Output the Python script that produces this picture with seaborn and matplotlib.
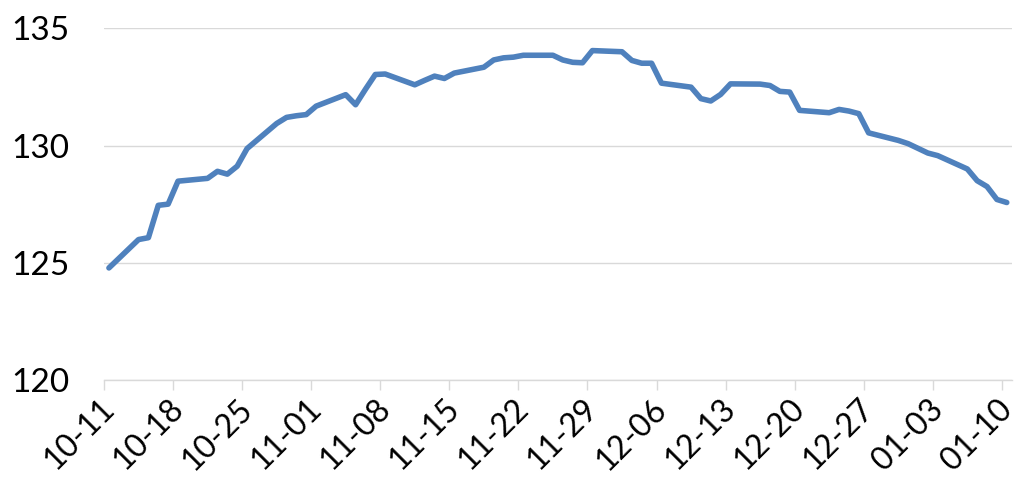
import numpy as np
import pandas as pd
import matplotlib
matplotlib.use("Agg")
import matplotlib.pyplot as plt
import matplotlib.transforms as mtransforms
import seaborn as sns

# trading days (weekends / new year skipped) and the index values
dates = ["2024-10-11", "2024-10-14", "2024-10-15", "2024-10-16", "2024-10-17", "2024-10-18",
         "2024-10-21", "2024-10-22", "2024-10-23", "2024-10-24", "2024-10-25",
         "2024-10-28", "2024-10-29", "2024-10-30", "2024-10-31", "2024-11-01",
         "2024-11-04", "2024-11-05", "2024-11-06", "2024-11-07", "2024-11-08",
         "2024-11-11", "2024-11-12", "2024-11-13", "2024-11-14", "2024-11-15",
         "2024-11-18", "2024-11-19", "2024-11-20", "2024-11-21", "2024-11-22",
         "2024-11-25", "2024-11-26", "2024-11-27", "2024-11-28", "2024-11-29",
         "2024-12-02", "2024-12-03", "2024-12-04", "2024-12-05", "2024-12-06",
         "2024-12-09", "2024-12-10", "2024-12-11", "2024-12-12", "2024-12-13",
         "2024-12-16", "2024-12-17", "2024-12-18", "2024-12-19", "2024-12-20",
         "2024-12-23", "2024-12-24", "2024-12-25", "2024-12-26", "2024-12-27",
         "2024-12-30", "2024-12-31", "2025-01-02", "2025-01-03",
         "2025-01-06", "2025-01-07", "2025-01-08", "2025-01-09", "2025-01-10"]
values = [124.78, 125.99, 126.07, 127.45, 127.50, 128.48,
          128.60, 128.90, 128.78, 129.12, 129.87,
          130.94, 131.20, 131.27, 131.32, 131.68,
          132.17, 131.74, 132.40, 133.03, 133.05,
          132.59, 132.78, 132.96, 132.86, 133.09,
          133.34, 133.65, 133.74, 133.77, 133.85,
          133.85, 133.65, 133.55, 133.53, 134.05,
          134.00, 133.63, 133.51, 133.51, 132.66,
          132.49, 132.00, 131.90, 132.18, 132.63,
          132.62, 132.56, 132.31, 132.28, 131.50,
          131.40, 131.54, 131.47, 131.36, 130.54,
          130.22, 130.08, 129.68, 129.57,
          129.00, 128.50, 128.25, 127.70, 127.57]
tick_dates = ["2024-10-11", "2024-10-18", "2024-10-25", "2024-11-01", "2024-11-08",
              "2024-11-15", "2024-11-22", "2024-11-29", "2024-12-06", "2024-12-13",
              "2024-12-20", "2024-12-27", "2025-01-03", "2025-01-10"]
tick_labels = ["10-11", "10-18", "10-25", "11-01", "11-08", "11-15", "11-22",
               "11-29", "12-06", "12-13", "12-20", "12-27", "01-03", "01-10"]
y_ticks = [120, 125, 130, 135]

sns.set_style("white")
plt.rcParams["font.family"] = ["Lato", "DejaVu Sans"]

df = pd.DataFrame({"date": pd.to_datetime(dates), "value": values})
# each day sits in the middle of its slot, ticks on the slot edges
df["x"] = df["date"] + pd.Timedelta(hours=12)

fig = plt.figure(figsize=(10.17, 4.88), dpi=100)
ax = fig.add_axes([104 / 1017, 1 - 380 / 488, (1011.7 - 104) / 1017, (380 - 28.3) / 488])

sns.lineplot(data=df, x="x", y="value", ax=ax, color="#4F81BD", linewidth=4.0)
for ln in ax.get_lines():
    ln.set_solid_joinstyle("round")
    ln.set_solid_capstyle("round")
    ln.set_clip_on(False)

ax.set_xlim(pd.Timestamp("2024-10-11"), pd.Timestamp("2025-01-11"))
ax.set_ylim(120, 135)
ax.set_yticks(y_ticks)
ax.set_yticklabels([str(v) for v in y_ticks])
ax.set_xticks(pd.to_datetime(tick_dates))
ax.set_xticklabels(tick_labels, rotation=45, ha="right", va="center", rotation_mode="anchor")
ax.set_xlabel("")
ax.set_ylabel("")

ax.grid(axis="y", color="#D9D9D9", linewidth=1.0)
ax.grid(axis="x", visible=False)
ax.set_axisbelow(True)
for s in ["left", "top", "right"]:
    ax.spines[s].set_visible(False)
ax.spines["bottom"].set_color("#D9D9D9")
ax.spines["bottom"].set_linewidth(1.0)

ax.tick_params(axis="y", length=0, pad=25, labelsize=24, labelcolor="black")
ax.tick_params(axis="x", length=7.5, width=1.0, color="#D9D9D9", pad=10, labelsize=23,
               labelcolor="black", bottom=True)

shift = mtransforms.ScaledTranslation(4 / 72, 0, fig.dpi_scale_trans)
for lab in ax.get_xticklabels():
    lab.set_transform(lab.get_transform() + shift)

fig.savefig("out.png", dpi=100)
